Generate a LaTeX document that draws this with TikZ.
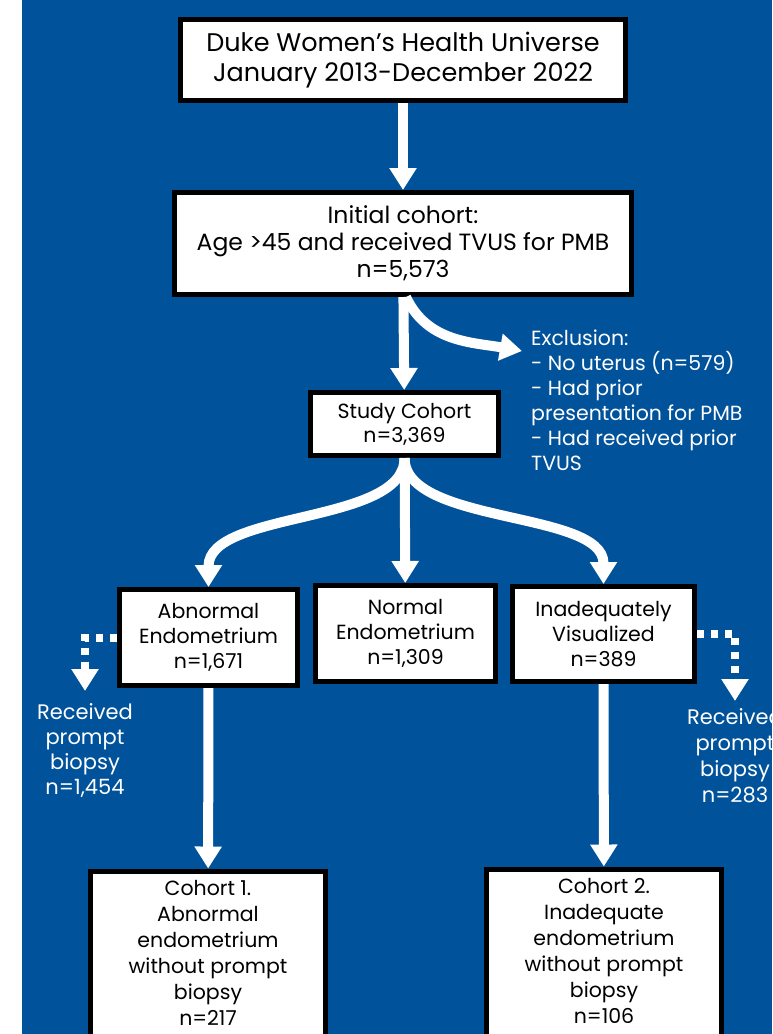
\documentclass[tikz,border=0pt]{standalone}
\usepackage{fontspec}
\setmainfont{Poppins}
\usetikzlibrary{arrows.meta,positioning}
\definecolor{dukeblue}{RGB}{0,82,155}
\tikzset{
  box/.style={draw=black,fill=white,line width=5pt,align=center,inner sep=0pt},
  flow/.style={draw=white,line width=10pt,-{Triangle[width=26pt,length=22pt]}},
  dotflow/.style={draw=white,line width=8pt,dash pattern=on 7pt off 7pt,-{Triangle[width=26pt,length=22pt]}},
  note/.style={text=white,inner sep=0pt}
}
\begin{document}
\begin{tikzpicture}[x=1pt,y=-1pt]
\useasboundingbox (0,0) rectangle (772,1034);
\clip (0,0) rectangle (772,1034);
\fill[dukeblue] (22,0) rectangle (772,1034);
\node[box,minimum width=445,minimum height=81,font=\fontsize{25.5}{30}\selectfont] (duke) at (403,60) {Duke Women's Health Universe\\January 2013-December 2022};
\node[box,minimum width=457,minimum height=102,font=\fontsize{23.5}{27}\selectfont] (init) at (403,243.5) {Initial cohort:\\Age >45 and received TVUS for PMB\\n=5,573};
\node[box,minimum width=188,minimum height=63,font=\fontsize{20.5}{24}\selectfont] (study) at (404.5,424) {Study Cohort\\n=3,369};
\node[note,anchor=north west,align=left,font=\fontsize{20.5}{25}\selectfont] (excl) at (531,330) {Exclusion:\\- No uterus (n=579)\\- Had prior\\presentation for PMB\\- Had received prior\\TVUS};
\coordinate (exclin) at (522,351);
\node[box,minimum width=178,minimum height=96,font=\fontsize{20.5}{25}\selectfont] (abn) at (208.5,637.5) {Abnormal\\Endometrium\\n=1,671};
\node[box,minimum width=180,minimum height=96,font=\fontsize{20.5}{25}\selectfont] (norm) at (405.5,633.5) {Normal\\Endometrium\\n=1,309};
\node[box,minimum width=182,minimum height=95,font=\fontsize{20.5}{25}\selectfont] (inad) at (603.5,634) {Inadequately\\Visualized\\n=389};
\node[note,anchor=north,align=center,font=\fontsize{21}{25}\selectfont] (recva) at (85,703) {Received\\prompt\\biopsy\\n=1,454};
\node[note,anchor=north,align=center,font=\fontsize{21}{26}\selectfont] (recvb) at (735,708) {Received\\prompt\\biopsy\\n=283};
\node[box,anchor=north,minimum width=235,inner ysep=9pt,font=\fontsize{20.5}{26}\selectfont] (coha) at (208,868.5) {Cohort 1.\\Abnormal\\endometrium\\without prompt\\biopsy\\n=217\\ };
\node[box,anchor=north,minimum width=235,inner ysep=9pt,font=\fontsize{20.5}{26}\selectfont] (cohb) at (604,866.5) {Cohort 2.\\Inadequate\\endometrium\\without prompt\\biopsy\\n=106\\ };
\draw[flow] (duke) -- (init);
\draw[flow] (init) -- (study);
\draw[flow] ([xshift=3pt]init.south) to[out=-65,in=170] (exclin);
\draw[flow] (study.south) .. controls (405,525) and (208.5,510) .. (abn.north);
\draw[flow] (study) -- (norm);
\draw[flow] (study.south) .. controls (405,525) and (603.5,510) .. (inad.north);
\draw[dotflow] (abn.west) -| ([yshift=12pt]recva.north);
\draw[dotflow] (inad.east) -| ([yshift=7pt]recvb.north);
\draw[flow] (abn) -- (coha);
\draw[flow] (inad) -- (cohb);
\end{tikzpicture}
\end{document}
